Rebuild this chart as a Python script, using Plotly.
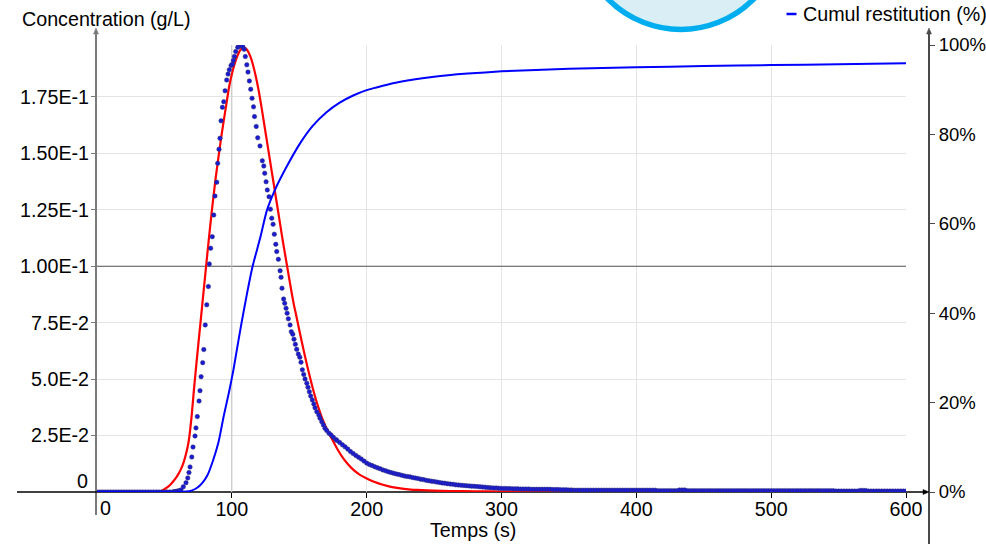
import plotly.graph_objects as go

# ---------------- data ----------------
# measured concentration (dots), g/L
t_base = list(range(0, 57, 2))
c_base = [0.0] * len(t_base)

t_peak = [57, 58, 59, 60, 61, 62.3, 64.0, 66.0, 67.3, 68.2, 69.0, 70.3, 71.2, 72.7, 73.4, 74.4,
          75.7, 76.4, 77.2, 78.4, 79.2, 80.3, 81.4, 82.6, 83.3, 84.3, 85.5, 86.6, 87.5,
          88.8, 89.5, 90.5, 91.2, 92.0, 93.0, 94.0, 95.0, 96.2, 97.2, 98.1, 99.4, 100.4, 101.1,
          101.9, 102.9, 104.4, 105.6, 106.8, 108.1, 109.1, 110.0, 111.1, 112.0, 113.0, 114.0, 115.0,
          116.1, 116.8, 118.1, 119.2, 120.9,
          122.6, 123.7, 124.4, 125.4, 126.3, 127.6, 128.6, 129.6, 130.6, 131.5, 132.6, 133.3, 134.5,
          135.8, 136.5, 137.2, 138.4,
          139.2, 140.2, 141.0, 141.9, 143.2, 144.1, 145.2, 146.1, 147.1, 148.1, 149.3, 150.4, 151.3,
          152.3, 153.3, 154.3, 155.6, 156.5, 157.5, 158.5, 159.7, 160.8, 161.7, 163.0, 164.5, 165.4,
          166.7, 167.9, 169.1, 170.4, 172.1, 173.6, 175.3, 177.1]
c_peak = [0.0001, 0.0002, 0.0003, 0.0004, 0.0006, 0.0009, 0.0023, 0.0041, 0.0062, 0.0086, 0.0111,
          0.0155, 0.0199, 0.0248, 0.0284, 0.0334, 0.0403, 0.0449, 0.0511, 0.0573, 0.0631,
          0.0740, 0.0829, 0.0910, 0.1010, 0.1080, 0.1131, 0.1227, 0.1311,
          0.1372, 0.1456, 0.1518, 0.1567, 0.1644, 0.1704, 0.1729, 0.1777, 0.1825, 0.1851, 0.1870,
          0.1889, 0.1895, 0.1911, 0.1929, 0.1951, 0.1970, 0.1976, 0.1977, 0.1973, 0.1961, 0.1929,
          0.1892, 0.1860, 0.1821, 0.1784, 0.1744,
          0.1706, 0.1663, 0.1619, 0.1569, 0.1533,
          0.1467, 0.1444, 0.1412, 0.1374, 0.1338, 0.1308, 0.1253, 0.1213, 0.1186, 0.1142, 0.1097,
          0.1065, 0.1031, 0.0980, 0.0951, 0.0903, 0.0855,
          0.0836, 0.0814, 0.0792, 0.0767, 0.0740, 0.0710, 0.0699, 0.0677, 0.0654, 0.0632, 0.0611,
          0.0597, 0.0575, 0.0541, 0.0521, 0.0501, 0.0482, 0.0464, 0.0444, 0.0425, 0.0408, 0.0390,
          0.0373, 0.0356, 0.0341, 0.0327, 0.0311, 0.0297, 0.0282, 0.0272, 0.0260, 0.0253, 0.0242,
          0.0233]

t_tail = list(range(178, 601, 2))
c_tail = ([0.0228, 0.0219, 0.0209, 0.0200, 0.0190, 0.0179, 0.0170, 0.0162, 0.0154, 0.0146,
           0.0137, 0.0128, 0.0122, 0.0117, 0.0112, 0.0107, 0.0103, 0.0098, 0.0094, 0.0090,
           0.0086, 0.0083, 0.0080, 0.0077, 0.0074, 0.0071, 0.0069, 0.0067, 0.0064, 0.0062,
           0.0060, 0.0057, 0.0055, 0.0052, 0.0050, 0.0048, 0.0046, 0.0044, 0.0042, 0.0040,
           0.0039, 0.0037, 0.0035, 0.0034, 0.0032, 0.0031, 0.0030, 0.0029, 0.0028, 0.0027,
           0.0026, 0.0025, 0.0024, 0.0023, 0.0022, 0.0021, 0.0020, 0.0019, 0.0018, 0.0018,
           0.0017, 0.0016, 0.0016, 0.0015, 0.0015, 0.0014, 0.0014, 0.0014, 0.0013, 0.0013,
           0.0013, 0.0013, 0.0012, 0.0012, 0.0012, 0.0012, 0.0012, 0.0012, 0.0012, 0.0012,
           0.0011, 0.0011, 0.0011, 0.0010, 0.0010, 0.0010, 0.0009, 0.0009]
          + [0.0008] * 31
          + [0.0006] * 8 + [0.0009] * 3 + [0.0006] * 55
          + [0.0004] * 9 + [0.0007] * 3 + [0.0004] * 15)

t_meas = t_base + t_peak + t_tail
c_meas = c_base + c_peak + c_tail

# model (red curve), g/L
t_model = [45, 48, 50, 52, 54, 56, 58, 60, 62, 64, 66, 68, 70, 72, 74, 76, 78, 80, 82, 84, 86,
           88, 90, 92, 94, 96, 98, 100, 102, 104, 106, 108, 110, 112, 114, 116, 118, 120, 122,
           124, 126, 128, 130, 132, 134, 136, 138, 140, 142, 144, 146, 148, 150, 152, 154, 156,
           158, 160, 162, 164, 166, 168, 170, 172, 174, 176, 178, 182, 186, 190, 195, 200, 206,
           212, 218, 225, 231, 237, 250, 262, 280, 300, 320, 353]
c_model = [0.0, 0.0005, 0.0012, 0.0020, 0.0030, 0.0043, 0.0058, 0.0076, 0.0098, 0.0127, 0.0168,
           0.0225, 0.0325, 0.0460, 0.0585, 0.0705, 0.0825, 0.0945, 0.1065, 0.1180, 0.1290,
           0.1390, 0.1480, 0.1565, 0.1645, 0.1720, 0.1795, 0.1850, 0.1895, 0.1930, 0.1955,
           0.1968, 0.1967, 0.1952, 0.1925, 0.1885, 0.1835, 0.1775, 0.1705, 0.1630, 0.1555,
           0.1480, 0.1405, 0.1330, 0.1255, 0.1180, 0.1105, 0.1035, 0.0965, 0.0895, 0.0830,
           0.0775, 0.0718, 0.0662, 0.0608, 0.0556, 0.0507, 0.0460, 0.0417, 0.0378, 0.0343,
           0.0312, 0.0285, 0.0260, 0.0238, 0.0215, 0.0193, 0.0155, 0.0124, 0.0099, 0.0076,
           0.0060, 0.0044, 0.0032, 0.0023, 0.0016, 0.0012, 0.0009, 0.0006, 0.0004, 0.0003,
           0.0002, 0.0001, 0.0001]

# cumulative restitution (blue line), %
t_cum = [0, 62, 66, 70, 74, 78, 82, 86, 90, 94, 98, 101, 104, 107, 111, 115.5, 121, 126, 132,
         140.7, 150.6, 160, 170, 180, 190, 200, 212, 225, 250, 275, 300, 350, 400, 450, 500,
         550, 600]
cum_pct = [0, 0, 0.1, 0.3, 0.9, 2.0, 3.8, 7.0, 11.0, 17.0, 22.5, 27.0, 32.3, 37.5, 44.0, 50.6,
           56.8, 63.0, 67.6, 72.8, 78.0, 81.9, 84.9, 87.1, 88.7, 89.9, 90.9, 91.8, 92.9, 93.6,
           94.1, 94.7, 95.0, 95.3, 95.5, 95.7, 95.9]

x_ticks = [100, 200, 300, 400, 500, 600]
x_tick_text = ["100", "200", "300", "400", "500", "600"]
y_ticks = [0.025, 0.05, 0.075, 0.1, 0.125, 0.15, 0.175]
y_tick_text = ["2.5E-2", "5.0E-2", "7.5E-2", "1.00E-1", "1.25E-1", "1.50E-1", "1.75E-1"]
y2_ticks = [0, 20, 40, 60, 80, 100]
y2_tick_text = ["0%", "20%", "40%", "60%", "80%", "100%"]

# ---------------- layout geometry ----------------
W, H = 986, 544
L, R, T, B = 97, 57, 45, 52
PW, PH = W - L - R, H - T - B
X_END = 906  # pixel of t = 600


def px(x):
    return (x - L) / PW


def py(y):
    return (H - B - y) / PH


FONT = "Liberation Sans, Arial, sans-serif"
FS = 19.7

fig = go.Figure()
fig.add_trace(go.Scatter(x=t_cum, y=cum_pct, yaxis="y2", mode="lines",
                         line=dict(color="#0000ff", width=2, shape="spline", smoothing=0.6),
                         name="Cumul restitution (%)", showlegend=False))
fig.add_trace(go.Scatter(x=t_model, y=c_model, mode="lines",
                         line=dict(color="#ff0000", width=2.2, shape="spline", smoothing=0.5),
                         showlegend=False))
fig.add_trace(go.Scatter(x=t_meas, y=c_meas, mode="markers",
                         marker=dict(color="#1a1ad2", size=4.5,
                                     line=dict(width=0.6, color="rgba(50,50,110,0.8)")),
                         showlegend=False))

shapes = []
# highlighted reference lines
shapes.append(dict(type="line", xref="x", yref="y", x0=0, x1=600, y0=0.1, y1=0.1,
                   line=dict(color="#555555", width=1), layer="between"))
shapes.append(dict(type="line", xref="x", yref="y", x0=100, x1=100, y0=0, y1=0.198,
                   line=dict(color="#c4c4c4", width=1), layer="between"))
# axis lines (extending beyond plot area)
shapes.append(dict(type="line", xref="paper", yref="paper", x0=px(96), x1=px(96),
                   y0=py(515), y1=py(31), line=dict(color="#7a7a7a", width=2), layer="below"))
shapes.append(dict(type="line", xref="paper", yref="paper", x0=px(17), x1=px(926),
                   y0=py(492), y1=py(492), line=dict(color="#000000", width=1.5), layer="below"))
shapes.append(dict(type="line", xref="paper", yref="paper", x0=px(929), x1=px(929),
                   y0=py(544), y1=py(31), line=dict(color="#4a4a4a", width=2), layer="below"))
# arrow heads
for ax_x, col in ((96, "#7a7a7a"), (929, "#4a4a4a")):
    shapes.append(dict(type="path", xref="paper", yref="paper",
                       path=f"M {px(ax_x - 2.5)} {py(34)} L {px(ax_x)} {py(28)} L {px(ax_x + 2.5)} {py(34)} Z",
                       fillcolor=col, line=dict(color=col, width=0.5)))
shapes.append(dict(type="path", xref="paper", yref="paper",
                   path=f"M {px(923)} {py(489.5)} L {px(929)} {py(492)} L {px(923)} {py(494.5)} Z",
                   fillcolor="#000", line=dict(color="#000", width=0.5)))
# decorative circle at top
shapes.append(dict(type="circle", xref="paper", yref="paper",
                   x0=px(578.5), x1=px(783.1), y0=py(-175.1), y1=py(29.5),
                   fillcolor="#daeef5", line=dict(color="#00aeef", width=5.5), layer="above"))
# legend dash
shapes.append(dict(type="line", xref="paper", yref="paper", x0=px(786.5), x1=px(796.5),
                   y0=py(14), y1=py(14), line=dict(color="#0000ff", width=2.5)))

annotations = [
    dict(text="Concentration (g/L)", xref="paper", yref="paper", x=px(19.5), y=py(19),
         xanchor="left", yanchor="middle", showarrow=False, font=dict(size=FS, color="#000")),
    dict(text="Temps (s)", xref="paper", yref="paper", x=px(473), y=py(530),
         xanchor="center", yanchor="middle", showarrow=False, font=dict(size=FS, color="#000")),
    dict(text="Cumul restitution (%)", xref="paper", yref="paper", x=px(800.5), y=py(14),
         xanchor="left", yanchor="middle", showarrow=False, font=dict(size=FS, color="#000")),
    dict(text="0", xref="paper", yref="paper", x=px(90), y=py(481),
         xanchor="right", yanchor="middle", showarrow=False, font=dict(size=FS, color="#000")),
    dict(text="0", xref="paper", yref="paper", x=px(105), y=py(508),
         xanchor="center", yanchor="middle", showarrow=False, font=dict(size=FS, color="#000")),
]

fig.update_layout(
    width=W, height=H,
    margin=dict(l=L, r=R, t=T, b=B, autoexpand=False),
    paper_bgcolor="white", plot_bgcolor="rgba(0,0,0,0)",
    font=dict(family=FONT, size=FS, color="#000"),
    showlegend=False,
    xaxis=dict(domain=[0, (X_END - L) / PW], range=[0, 600], tickvals=x_ticks, ticktext=x_tick_text,
               ticks="outside", ticklen=5, tickcolor="#000", tickwidth=1, ticklabelstandoff=-6,
               showgrid=True, gridcolor="#e4e4e4", gridwidth=1, zeroline=False, showline=False,
               tickfont=dict(size=FS, color="#000")),
    yaxis=dict(range=[0, 0.198], tickvals=y_ticks, ticktext=y_tick_text,
               ticks="outside", ticklen=5, tickcolor="#7a7a7a", tickwidth=1, ticklabelstandoff=-2,
               showgrid=True, gridcolor="#e4e4e4", gridwidth=1, zeroline=False, showline=False,
               tickfont=dict(size=FS, color="#000")),
    yaxis2=dict(overlaying="y", side="right", anchor="free", position=1.0,
                range=[0, 100], tickvals=y2_ticks, ticktext=y2_tick_text,
                ticks="outside", ticklen=5, tickcolor="#4a4a4a", tickwidth=1,
                showgrid=False, zeroline=False, showline=False,
                tickfont=dict(size=18.5, color="#000")),
    shapes=shapes,
    annotations=annotations,
)

fig.write_html("out.html", config={"displayModeBar": False},
               post_script="document.body.style.margin='0';document.body.style.padding='0';")
